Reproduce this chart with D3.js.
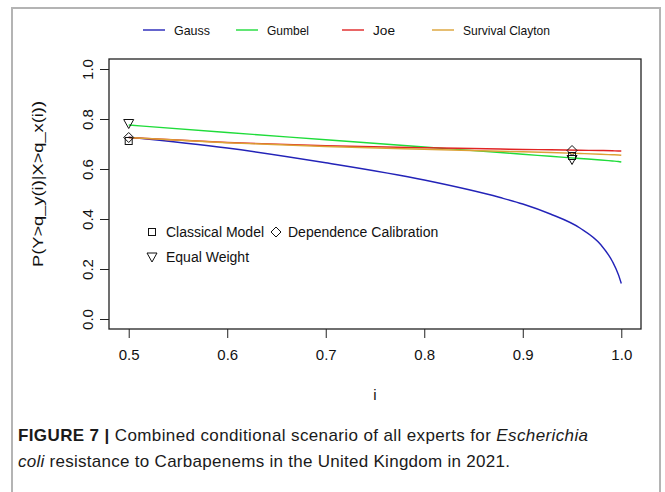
<!DOCTYPE html>
<html>
<head>
<meta charset="utf-8">
<script src="https://cdn.jsdelivr.net/npm/d3@7"></script>
<style>
  body { margin: 0; background: #fff; }
  svg { display: block; }
</style>
</head>
<body>
<svg id="chart" width="665" height="492"></svg>
<script>
// ---------------- data ----------------
const iValues = [0.5, 0.6, 0.7, 0.8, 0.877, 0.9, 0.928, 0.958, 0.979, 0.991, 0.997, 1.0];
const gauss   = [0.727, 0.684, 0.625, 0.556, 0.486, 0.460, 0.420, 0.364, 0.298, 0.230, 0.178, 0.142];
const gumbel  = [0.776, 0.746, 0.717, 0.688, 0.666, 0.659, 0.651, 0.642, 0.636, 0.632, 0.630, 0.628];
const joe     = [0.726, 0.706, 0.693, 0.685, 0.680, 0.678, 0.677, 0.675, 0.674, 0.673, 0.672, 0.672];
const survClayton = [0.726, 0.705, 0.690, 0.679, 0.671, 0.669, 0.666, 0.662, 0.659, 0.657, 0.656, 0.655];

const seriesNames = ['Gauss', 'Gumbel', 'Joe', 'Survival Clayton'];
const seriesColors = ['#2323b8', '#1fdc3a', '#e02424', '#dca236'];

// expert points: i = 0.5 and i = 0.95
const pointI = [0.5, 0.95];
const classicalModel = [0.712, 0.652];
const dependenceCal = [0.726, 0.674];
const equalWeight = [0.782, 0.638];

const xTicks = [0.5, 0.6, 0.7, 0.8, 0.9, 1.0];
const yTicks = [0.0, 0.2, 0.4, 0.6, 0.8, 1.0];

const captionLine1 = ['FIGURE 7 | ', 'Combined conditional scenario of all experts for ', 'Escherichia'];
const captionLine2 = ['coli', ' resistance to Carbapenems in the United Kingdom in 2021.'];

// ---------------- layout ----------------
const svg = d3.select('#chart');
const plot = { left: 109, right: 641, top: 59, bottom: 329 };
const axisFont = '"Liberation Sans", Arial, sans-serif';

// outer figure frame (no bottom edge visible)
svg.append('path')
    .attr('d', 'M12,492 L12,8 L660,8 L660,492')
    .attr('fill', 'none')
    .attr('stroke', '#b4b4b4')
    .attr('stroke-width', 2);

const x = d3.scaleLinear().domain([0.48, 1.02]).range([plot.left, plot.right]);
const y = d3.scaleLinear().domain([-0.04, 1.04]).range([plot.bottom, plot.top]);

// axes
const xAxis = d3.axisBottom(x).tickValues(xTicks).tickSize(9).tickPadding(11)
    .tickFormat(d3.format('.1f'));
const gx = svg.append('g')
    .attr('transform', `translate(0,${plot.bottom})`)
    .call(xAxis);
gx.select('.domain').remove();
gx.selectAll('.tick line').attr('stroke', '#222');
gx.selectAll('.tick text')
    .style('font-family', axisFont)
    .style('font-size', '15px')
    .attr('fill', '#111');

const yAxis = d3.axisLeft(y).tickValues(yTicks).tickSize(9)
    .tickFormat(d3.format('.1f'));
const gy = svg.append('g')
    .attr('transform', `translate(${plot.left},0)`)
    .call(yAxis);
gy.select('.domain').remove();
gy.selectAll('.tick line').attr('stroke', '#222');
gy.selectAll('.tick text')
    .attr('x', 0).attr('dy', 0)
    .attr('transform', 'translate(-16,0) rotate(-90)')
    .attr('text-anchor', 'middle')
    .style('font-family', axisFont)
    .style('font-size', '15px')
    .attr('fill', '#111');

// box
svg.append('rect')
    .attr('x', plot.left).attr('y', plot.top)
    .attr('width', plot.right - plot.left)
    .attr('height', plot.bottom - plot.top)
    .attr('fill', 'none')
    .attr('stroke', '#222')
    .attr('stroke-width', 1.3);

// axis titles
svg.append('text')
    .attr('x', 375).attr('y', 400)
    .attr('text-anchor', 'middle')
    .style('font-family', axisFont).style('font-size', '15px')
    .attr('fill', '#111')
    .text('i');

svg.append('text')
    .attr('transform', 'translate(43,184) rotate(-90)')
    .attr('text-anchor', 'middle')
    .style('font-family', axisFont).style('font-size', '15px')
    .attr('textLength', 166).attr('lengthAdjust', 'spacingAndGlyphs')
    .attr('fill', '#111')
    .text('P(Y>q_y(i)|X>q_x(i))');

// lines
const allSeries = [gauss, gumbel, joe, survClayton];
const line = d3.line()
    .x((d, i) => x(iValues[i]))
    .y(d => y(d))
    .curve(d3.curveMonotoneX);

allSeries.forEach((vals, k) => {
    svg.append('path')
        .datum(vals)
        .attr('d', line)
        .attr('fill', 'none')
        .attr('stroke', seriesColors[k])
        .attr('stroke-width', 1.4);
});

// markers
function square(g, cx, cy) {
    g.append('rect').attr('x', cx - 3.5).attr('y', cy - 3.5).attr('width', 7).attr('height', 7)
        .attr('fill', 'none').attr('stroke', '#111').attr('stroke-width', 1);
}
function diamond(g, cx, cy) {
    g.append('path').attr('d', `M${cx},${cy - 5} L${cx + 5},${cy} L${cx},${cy + 5} L${cx - 5},${cy} Z`)
        .attr('fill', 'none').attr('stroke', '#111').attr('stroke-width', 1);
}
function triDown(g, cx, cy) {
    g.append('path').attr('d', `M${cx - 5},${cy - 4} L${cx + 5},${cy - 4} L${cx},${cy + 5} Z`)
        .attr('fill', 'none').attr('stroke', '#111').attr('stroke-width', 1);
}

const marks = svg.append('g');
pointI.forEach((pi, k) => {
    square(marks, x(pi), y(classicalModel[k]));
    diamond(marks, x(pi), y(dependenceCal[k]));
    triDown(marks, x(pi), y(equalWeight[k]));
});

// inner legend
const lg = svg.append('g');
square(lg, 152, 232);
lg.append('text').attr('x', 166).attr('y', 237)
    .style('font-family', axisFont).style('font-size', '14px').attr('fill', '#111')
    .text('Classical Model');
diamond(lg, 276, 232);
lg.append('text').attr('x', 288).attr('y', 237)
    .style('font-family', axisFont).style('font-size', '14px').attr('fill', '#111')
    .text('Dependence Calibration');
triDown(lg, 152, 257);
lg.append('text').attr('x', 166).attr('y', 262)
    .style('font-family', axisFont).style('font-size', '14px').attr('fill', '#111')
    .text('Equal Weight');

// top legend
const legendX = [143, 236, 342, 432];
const legendTextW = [36, 42, 22, 87];
seriesNames.forEach((name, k) => {
    svg.append('line')
        .attr('x1', legendX[k]).attr('x2', legendX[k] + 22)
        .attr('y1', 30).attr('y2', 30)
        .attr('stroke', seriesColors[k]).attr('stroke-width', 1.4);
    svg.append('text')
        .attr('x', legendX[k] + 31).attr('y', 34.5)
        .style('font-family', axisFont).style('font-size', '13px')
        .attr('textLength', legendTextW[k]).attr('lengthAdjust', 'spacingAndGlyphs')
        .attr('fill', '#111')
        .text(name);
});

// caption
const c1 = svg.append('text').attr('x', 18).attr('y', 441)
    .style('font-family', axisFont).style('font-size', '17px').attr('fill', '#1a1a1a')
    .attr('textLength', 570).attr('lengthAdjust', 'spacing');
c1.append('tspan').style('font-weight', 'bold').text(captionLine1[0]);
c1.append('tspan').text(captionLine1[1]);
c1.append('tspan').style('font-style', 'italic').text(captionLine1[2]);

const c2 = svg.append('text').attr('x', 18).attr('y', 467)
    .style('font-family', axisFont).style('font-size', '17px').attr('fill', '#1a1a1a')
    .attr('textLength', 492).attr('lengthAdjust', 'spacing');
c2.append('tspan').style('font-style', 'italic').text(captionLine2[0]);
c2.append('tspan').text(captionLine2[1]);
</script>
</body>
</html>
